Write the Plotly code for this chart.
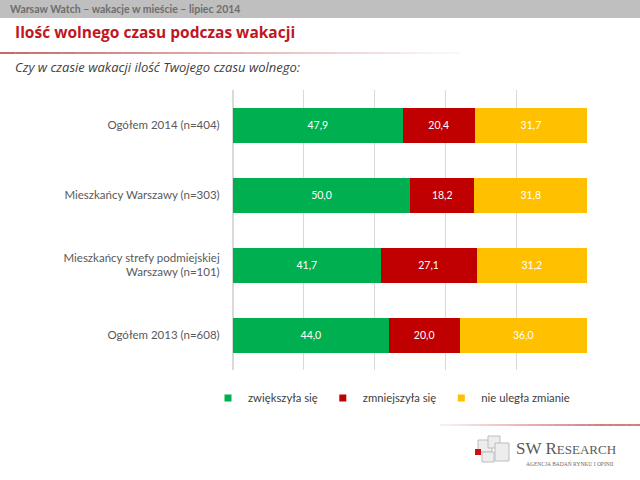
import plotly.graph_objects as go

categories = ["Ogółem 2014 (n=404)", "Mieszkańcy Warszawy (n=303)",
              "Mieszkańcy strefy podmiejskiej<br>Warszawy (n=101)", "Ogółem 2013 (n=608)"]
series_names = ["zwiększyła się", "zmniejszyła się", "nie uległa zmianie"]
increased = [47.9, 50.0, 41.7, 44.0]
decreased = [20.4, 18.2, 27.1, 20.0]
unchanged = [31.7, 31.8, 31.2, 36.0]
colors = ["#00B050", "#C00000", "#FFC000"]

W, H = 640, 480
L, R, T, B = 233, 587, 90, 370


def px(x):
    return (x - L) / (R - L)


def py(y):
    return (B - y) / (B - T)


def fmt(v):
    return f"{v:.1f}".replace(".", ",")


fig = go.Figure()
for name, vals, col in zip(series_names, [increased, decreased, unchanged], colors):
    fig.add_trace(go.Bar(
        y=categories, x=vals, name=name, orientation="h",
        marker=dict(color=col, line=dict(width=0)),
        text=[fmt(v) for v in vals], textposition="inside",
        insidetextanchor="middle",
        textfont=dict(color="white", size=10.5, family="Lato"),
        showlegend=False,
    ))
for name, col in zip(series_names, colors):
    fig.add_trace(go.Scatter(
        x=[None], y=[None], mode="markers", name=name,
        marker=dict(symbol="square", size=7, color=col),
        showlegend=True,
    ))

shapes = []
shapes.append(dict(type="rect", xref="paper", yref="paper",
                   x0=px(0), x1=px(W), y0=py(18), y1=py(0),
                   fillcolor="#BFBFBF", line=dict(width=0), layer="below"))
n = 30
for i in range(n):
    x0 = i * 460 / n
    x1 = (i + 1) * 460 / n
    shapes.append(dict(type="line", xref="paper", yref="paper",
                       x0=px(x0), x1=px(x1), y0=py(53), y1=py(53),
                       line=dict(color="#B03A3A", width=1.5),
                       opacity=max(0.05, 1 - i / n)))
for i in range(n):
    x0 = 440 + i * 200 / n
    x1 = 440 + (i + 1) * 200 / n
    shapes.append(dict(type="line", xref="paper", yref="paper",
                       x0=px(x0), x1=px(x1), y0=py(425), y1=py(425),
                       line=dict(color="#C04040", width=1.5),
                       opacity=min(0.9, 0.1 + i / n)))
for (a, b, c, d) in [(478, 440, 492, 452), (488, 436, 500, 448), (495, 443, 509, 461),
                     (482, 452, 494, 462)]:
    shapes.append(dict(type="rect", xref="paper", yref="paper",
                       x0=px(a), x1=px(c), y0=py(d), y1=py(b),
                       fillcolor="#EDEDED", line=dict(color="#BDBDBD", width=1)))
shapes.append(dict(type="rect", xref="paper", yref="paper",
                   x0=px(475), x1=px(481), y0=py(455), y1=py(449),
                   fillcolor="#D01010", line=dict(width=0)))

annotations = [
    dict(text="<b>Warsaw Watch – wakacje w mieście – lipiec 2014</b>",
         x=px(8), y=py(9), xref="paper", yref="paper", xanchor="left", yanchor="middle",
         showarrow=False, font=dict(size=10.5, color="#6E6E6E", family="Lato")),
    dict(text="<b>Ilość wolnego czasu podczas wakacji</b>",
         x=px(13), y=py(32), xref="paper", yref="paper", xanchor="left", yanchor="middle",
         showarrow=False, font=dict(size=15.5, color="#C0171F", family="Open Sans")),
    dict(text="<i>Czy w czasie wakacji ilość Twojego czasu wolnego:</i>",
         x=px(13), y=py(67), xref="paper", yref="paper", xanchor="left", yanchor="middle",
         showarrow=False, font=dict(size=13, color="#404040", family="Open Sans")),
    dict(text="SW R<span style='font-size:13px'>ESEARCH</span>",
         x=px(514), y=py(448), xref="paper", yref="paper", xanchor="left", yanchor="middle",
         showarrow=False, font=dict(size=17, color="#5A5A5A", family="Liberation Serif")),
    dict(text="AGENCJA BADAŃ RYNKU I OPINII",
         x=px(570), y=py(463), xref="paper", yref="paper", xanchor="center", yanchor="middle",
         showarrow=False, font=dict(size=5.5, color="#6A6A6A", family="Liberation Serif")),
]

fig.update_layout(
    width=W, height=H, barmode="stack", bargap=0.5,
    paper_bgcolor="white", plot_bgcolor="white",
    margin=dict(l=L, r=W - R, t=T, b=H - B, autoexpand=False),
    font=dict(family="Lato", color="#595959"),
    xaxis=dict(range=[0, 100], dtick=20, showgrid=True, gridcolor="#D9D9D9", gridwidth=1,
               showticklabels=False, zeroline=True, zerolinecolor="#D9D9D9", ticks="",
               fixedrange=True),
    yaxis=dict(categoryorder="array", categoryarray=categories, autorange="reversed",
               tickfont=dict(size=11.5, color="#595959", family="Lato"), ticks="outside",
               ticklen=10, tickcolor="rgba(0,0,0,0)", showgrid=False),
    legend=dict(orientation="h", x=px(208), y=py(398), xanchor="left", yanchor="middle",
                traceorder="normal",
                font=dict(size=11.3, color="#404040", family="Lato"),
                itemwidth=30,
                bgcolor="rgba(0,0,0,0)"),
    showlegend=True,
    shapes=shapes, annotations=annotations,
)

fig.write_html("out.html", config={"displayModeBar": False},
               post_script="document.body.style.margin='0';document.body.style.padding='0';")
